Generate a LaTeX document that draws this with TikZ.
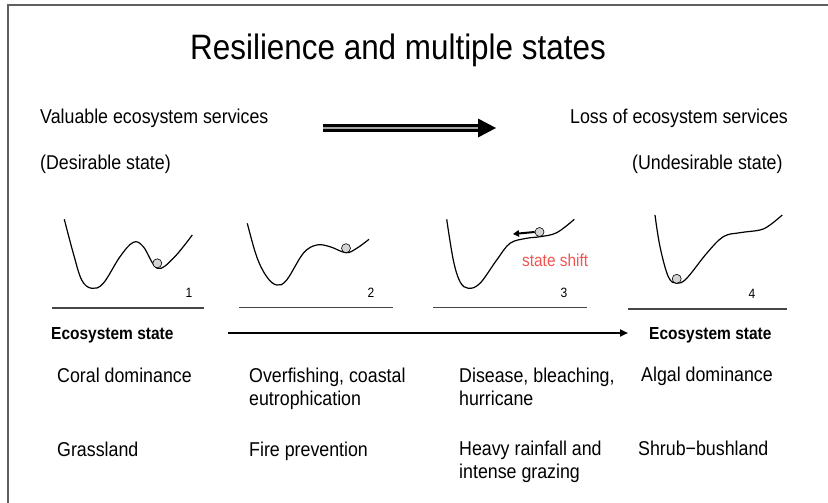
\documentclass[tikz,border=0pt]{standalone}
\usepackage{fontspec}
\setmainfont[FakeStretch=0.89]{Liberation Sans}
\usetikzlibrary{arrows.meta,calc}
\definecolor{shiftred}{RGB}{240,85,80}
\definecolor{framegray}{RGB}{95,95,95}
\definecolor{ballgray}{RGB}{212,212,212}
\definecolor{rulegray}{RGB}{70,70,70}
\begin{document}
\begin{tikzpicture}[x=1pt,y=-1pt,
  titletxt/.style={inner sep=0pt, anchor=base, font=\fontsize{35.3}{40}\selectfont},
  bodytxt/.style={inner sep=0pt, anchor=base west, font=\fontsize{20}{24}\selectfont},
  esstate/.style={inner sep=0pt, anchor=base west, font=\fontsize{17.4}{20}\selectfont\bfseries},
  numtxt/.style={inner sep=0pt, anchor=base, font=\fontsize{13.5}{16}\selectfont},
  shifttxt/.style={inner sep=0pt, anchor=base west, text=shiftred, font=\fontsize{17.3}{20}\selectfont},
  landscape/.style={line width=1.2pt, black},
  ball/.style={circle, draw=black, line width=0.6pt, fill=ballgray, minimum size=9pt, inner sep=0pt},
  panelrule/.style={line width=1.5pt, rulegray},
  esarrow/.style={line width=2pt, -{Triangle[length=8pt,width=7pt]}},
  shiftarrow/.style={line width=2pt, -{Triangle[length=6pt,width=6.5pt]}}
]
\useasboundingbox (0,0) rectangle (828,503);
\fill[white] (0,0) rectangle (828,503);
% frame
\draw[framegray, line width=1.5pt] (8,503) -- (8,5) -- (828,5);

% title
\node[titletxt] (title) at (398,60) {Resilience and multiple states};

% header texts
\node[bodytxt] (valuable) at (40,123) {Valuable ecosystem services};
\node[bodytxt] (desirable) at (40,169) {(Desirable state)};
\node[bodytxt] (loss) at (570,123) {Loss of ecosystem services};
\node[bodytxt] (undesirable) at (632,169) {(Undesirable state)};

% big double arrow
\coordinate (da0) at (323,128);
\coordinate (da1) at (479,128);
\coordinate (da2) at (496,128);
\draw[line width=7.5pt, black] (da0) -- (da1);
\draw[line width=2pt, gray!70] (da0) -- (da1);
\fill[black] ($(da1)+(-1,-9.5)$) -- (da2) -- ($(da1)+(-1,9.5)$) -- cycle;

% landscapes
\draw[landscape] plot[smooth, tension=0.6] coordinates {(64.3,219.3) (73.3,253.3) (81.7,280) (91.7,288.3) (103.3,283.3) (120,256.7) (133.3,242.3) (143.3,246.7) (157.3,268.3) (173.3,258.3) (192.3,235)};
\draw[landscape] plot[smooth, tension=0.6] coordinates {(247.3,223.3) (256.7,256.7) (266.7,276.7) (276.7,285) (286.7,280) (303.3,253.3) (316.7,245) (330,246.7) (346,252.7) (356.7,248.3) (369,239.3)};
\draw[landscape] plot[smooth, tension=0.6] coordinates {(446.7,219.3) (453.3,260) (460,281.7) (468.3,288.3) (480,283.3) (496.7,260) (510,243.3) (526.7,238.3) (540,236.7) (556.7,232.7) (574.3,219.3)};
\draw[landscape] plot[smooth, tension=0.6] coordinates {(655,215) (660,246.7) (668.3,276.7) (676.7,283.3) (686.7,278.3) (706.7,253.3) (723.3,236.7) (740,232.7) (760,230) (770,225) (782.3,215)};

% balls
\node[ball] (b1) at (157.3,263.3) {};
\node[ball] (b2) at (346,248.2) {};
\node[ball] (b3) at (539.5,232) {};
\node[ball] (b4) at (676.7,278.8) {};

% state shift
\coordinate (sa3) at (513,234);
\draw[shiftarrow] (b3.west) -- (sa3);
\node[shifttxt] (shift) at (522,266) {state shift};

% panel numbers
\node[numtxt] (n1) at (189,297) {1};
\node[numtxt] (n2) at (371,297) {2};
\node[numtxt] (n3) at (564,297) {3};
\node[numtxt] (n4) at (752,298) {4};

% panel rules
\draw[panelrule] (52,308) -- (204,308);
\draw[panelrule] (239,307.5) -- (393,307.5);
\draw[panelrule] (433,307.5) -- (587,307.5);
\draw[panelrule] (628,309) -- (787,309);

% ecosystem state axis
\node[esstate] (es1) at (51,339) {Ecosystem state};
\node[esstate] (es2) at (649,339) {Ecosystem state};
\coordinate (esa) at (228,333);
\coordinate (esb) at (628,333);
\draw[esarrow] (esa) -- (esb);

% row 1
\node[bodytxt] (coral) at (57,382) {Coral dominance};
\node[bodytxt] (over1) at (249,382) {Overfishing, coastal};
\node[bodytxt] (over2) at (249,405) {eutrophication};
\node[bodytxt] (dis1) at (459,382) {Disease, bleaching,};
\node[bodytxt] (dis2) at (459,405) {hurricane};
\node[bodytxt] (algal) at (641,381) {Algal dominance};

% row 2
\node[bodytxt] (grass) at (57,456) {Grassland};
\node[bodytxt] (fire) at (249,456) {Fire prevention};
\node[bodytxt] (rain1) at (459,455) {Heavy rainfall and};
\node[bodytxt] (rain2) at (459,478) {intense grazing};
\node[bodytxt] (shrub) at (638,455) {Shrub−bushland};
\end{tikzpicture}
\end{document}
